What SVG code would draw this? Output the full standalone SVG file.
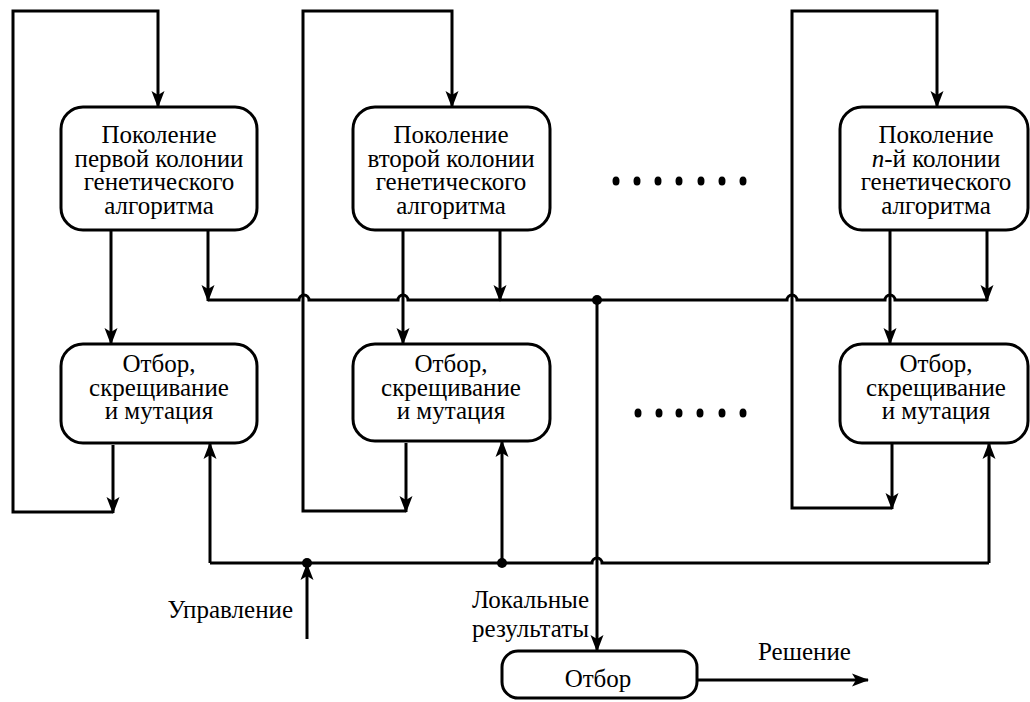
<svg xmlns="http://www.w3.org/2000/svg" width="1030" height="702" viewBox="0 0 1030 702">
<style>
.box{fill:#fff;stroke:#000;stroke-width:3}
.ln{fill:none;stroke:#000;stroke-width:3}
.arr{marker-end:url(#ah)}
text{font-family:"Liberation Serif","Times New Roman",serif;font-size:25px;fill:#000}
.c{text-anchor:middle}
.e{text-anchor:end}
</style>
<defs>
<marker id="ah" markerUnits="userSpaceOnUse" markerWidth="17" markerHeight="14" viewBox="0 0 17 14" refX="16" refY="7" orient="auto">
<path d="M0,0.5 L17,7 L0,13.5 L4,7 z" fill="#000"/>
</marker>
</defs>
<rect width="1030" height="702" fill="#fff"/>

<g id="connectors">
<!-- column 1 -->
<path class="ln arr" d="M113,512 H13 V11 H158 V107"/>
<path class="ln arr" d="M113,445 V513"/>
<path class="ln arr" d="M111,230 V344"/>
<path class="ln arr" d="M208,230 V301"/>
<path class="ln arr" d="M210,563 V443"/>
<!-- column 2 -->
<path class="ln arr" d="M406,511 H303 V11 H452 V107"/>
<path class="ln arr" d="M406,443 V512"/>
<path class="ln arr" d="M403,230 V344"/>
<path class="ln arr" d="M500,230 V301"/>
<path class="ln arr" d="M502,563 V441"/>
<!-- column n -->
<path class="ln arr" d="M892,508 H792 V11 H937 V107"/>
<path class="ln arr" d="M892,443 V509"/>
<path class="ln arr" d="M890,230 V344"/>
<path class="ln arr" d="M987,230 V301"/>
<path class="ln arr" d="M989,563 V443"/>
<!-- top bus with hops -->
<path class="ln" d="M208,300 H299 a5,5 0 0 1 10,0 H398 a5,5 0 0 1 10,0 H787 a5,5 0 0 1 10,0 H885 a5,5 0 0 1 10,0 H987"/>
<circle cx="597" cy="300" r="5"/>
<!-- local results down to final selection -->
<path class="ln arr" d="M597,300 V651"/>
<!-- bottom bus with hop -->
<path class="ln" d="M210,563 H592 a5,5 0 0 1 10,0 H989"/>
<circle cx="307" cy="563" r="5"/>
<circle cx="502" cy="563" r="5"/>
<!-- control input -->
<path class="ln arr" d="M307,639 V564"/>
<!-- solution output -->
<path class="ln arr" d="M697,680 H868"/>
</g>

<g id="gen1">
<rect class="box" x="61" y="107" width="196" height="123" rx="22"/>
<text class="c" x="159" y="143">Поколение<tspan x="159" dy="23.5">первой колонии</tspan><tspan x="159" dy="23.5">генетического</tspan><tspan x="159" dy="23.5">алгоритма</tspan></text>
</g>
<g id="gen2">
<rect class="box" x="353" y="107" width="197" height="123" rx="22"/>
<text class="c" x="451" y="143">Поколение<tspan x="451" dy="23.5">второй колонии</tspan><tspan x="451" dy="23.5">генетического</tspan><tspan x="451" dy="23.5">алгоритма</tspan></text>
</g>
<g id="genN">
<rect class="box" x="840" y="107" width="188" height="123" rx="22"/>
<text class="c" x="936" y="143">Поколение<tspan x="936" dy="23.5"><tspan font-style="italic">n</tspan>-й колонии</tspan><tspan x="936" dy="23.5">генетического</tspan><tspan x="936" dy="23.5">алгоритма</tspan></text>
</g>
<g id="sel1">
<rect class="box" x="61" y="344" width="196" height="99" rx="22"/>
<text class="c" x="159" y="372">Отбор,<tspan x="159" dy="23.5">скрещивание</tspan><tspan x="159" dy="23.5">и мутация</tspan></text>
</g>
<g id="sel2">
<rect class="box" x="353" y="344" width="197" height="97" rx="22"/>
<text class="c" x="451" y="372">Отбор,<tspan x="451" dy="23.5">скрещивание</tspan><tspan x="451" dy="23.5">и мутация</tspan></text>
</g>
<g id="selN">
<rect class="box" x="840" y="344" width="188" height="99" rx="22"/>
<text class="c" x="936" y="372">Отбор,<tspan x="936" dy="23.5">скрещивание</tspan><tspan x="936" dy="23.5">и мутация</tspan></text>
</g>
<g id="final">
<rect class="box" x="502" y="651" width="195" height="47" rx="16"/>
<text class="c" x="598" y="687">Отбор</text>
</g>
<g id="ellipsis1">
<ellipse cx="616" cy="181" rx="3.5" ry="4.5"/>
<ellipse cx="637" cy="181" rx="3.5" ry="4.5"/>
<ellipse cx="658" cy="181" rx="3.5" ry="4.5"/>
<ellipse cx="679" cy="181" rx="3.5" ry="4.5"/>
<ellipse cx="701" cy="181" rx="3.5" ry="4.5"/>
<ellipse cx="722" cy="181" rx="3.5" ry="4.5"/>
<ellipse cx="743" cy="181" rx="3.5" ry="4.5"/>
</g>
<g id="ellipsis2">
<ellipse cx="638" cy="413" rx="3.5" ry="4.5"/>
<ellipse cx="659" cy="413" rx="3.5" ry="4.5"/>
<ellipse cx="679" cy="413" rx="3.5" ry="4.5"/>
<ellipse cx="700" cy="413" rx="3.5" ry="4.5"/>
<ellipse cx="722" cy="413" rx="3.5" ry="4.5"/>
<ellipse cx="743" cy="413" rx="3.5" ry="4.5"/>
</g>
<g id="labels">
<text class="e" x="293" y="618">Управление</text>
<text class="e" x="589" y="608">Локальные<tspan x="589" dy="29">результаты</tspan></text>
<text x="758" y="660">Решение</text>
</g>
</svg>
